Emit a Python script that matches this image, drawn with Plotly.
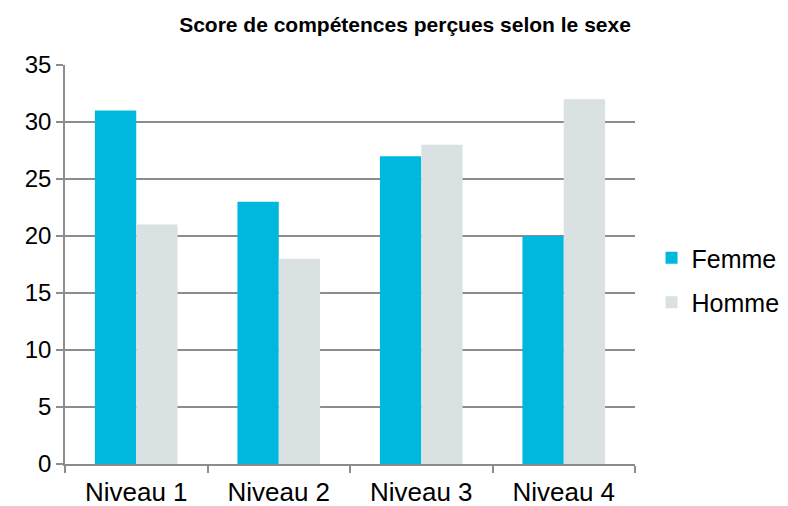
import plotly.graph_objects as go

categories = ["Niveau 1", "Niveau 2", "Niveau 3", "Niveau 4"]
femme = [31, 23, 27, 20]
homme = [21, 18, 28, 32]

font_family = "Liberation Sans, Arial, sans-serif"
grid_color = "#8c8c8c"

fig = go.Figure()
fig.add_trace(go.Bar(x=categories, y=femme, name="Femme", marker_color="#00B7DE",
                     marker_line_width=0, legendgroup="f"))
fig.add_trace(go.Bar(x=categories, y=homme, name="Homme", marker_color="#D9E1E3",
                     marker_line_width=0, legendgroup="h"))

# page body has an 8px default margin; figure sized to fit the window
W, H = 780, 498
fig.update_layout(
    width=W, height=H,
    margin=dict(l=57, r=153, t=57, b=42, autoexpand=False),
    paper_bgcolor="white", plot_bgcolor="white",
    barmode="group", bargap=0.42, bargroupgap=0,
    font=dict(family=font_family, color="black", size=25),
    title=dict(text="<b>Score de compétences perçues selon le sexe</b>",
               font=dict(size=21, family=font_family, color="black"),
               x=397/W, xanchor="center", xref="container",
               y=1 - 17/H, yanchor="middle", yref="container"),
    legend=dict(x=1.029, xanchor="left", y=0.461, yanchor="middle",
                font=dict(size=25, family=font_family), tracegroupgap=9,
                itemwidth=30),
    showlegend=True,
)
fig.update_yaxes(range=[0, 35], dtick=5, showgrid=True, gridcolor=grid_color, gridwidth=1.5,
                 showline=True, linecolor=grid_color, linewidth=1.5,
                 ticks="outside", ticklen=7, tickcolor=grid_color, tickwidth=1.5,
                 tickfont=dict(size=24), zeroline=False, fixedrange=True, automargin=False)
fig.update_xaxes(showline=True, linecolor=grid_color, linewidth=1.5,
                 ticks="outside", ticklen=7, tickcolor=grid_color, tickwidth=1.5,
                 tickson="boundaries", tickfont=dict(size=26), showgrid=False,
                 ticklabelstandoff=4, automargin=False)

fig.write_html("out.html")
